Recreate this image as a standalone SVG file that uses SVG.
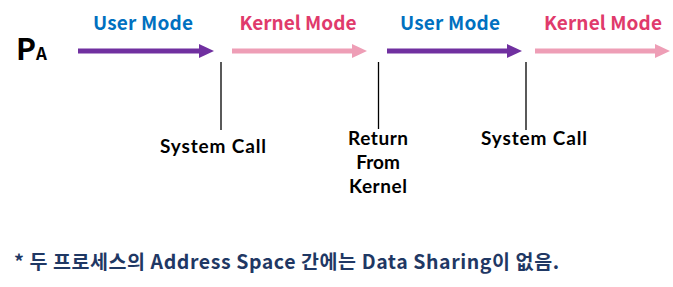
<svg xmlns="http://www.w3.org/2000/svg" width="673" height="287" viewBox="0 0 673 287">
<style>
text{font-family:"Noto Sans CJK KR","Liberation Sans",sans-serif;font-weight:bold}
.lbl{font-size:19px;text-anchor:middle}
.user{fill:#0070C0}
.kern{fill:#E03A6B}
.ev{font-family:Lato,"Noto Sans CJK KR",sans-serif;font-size:19px;text-anchor:middle;fill:#000}
.u{stroke:#7030A0;stroke-width:5;fill:none}
.k{stroke:#EE9EB6;stroke-width:5;fill:none}
.tick{stroke:#000;stroke-width:1.3}
</style>
<rect width="673" height="287" fill="#fff"/>
<g id="process-label">
<text x="16" y="60" font-size="30" fill="#000">P<tspan font-size="17">A</tspan></text>
</g>
<g id="connectors">
<line class="u" x1="78" y1="51" x2="200" y2="51"/>
<path d="M199,44 L214,51 L199,58 Z" fill="#7030A0"/>
<line class="k" x1="232" y1="51" x2="353" y2="51"/>
<path d="M352,44 L367,51 L352,58 Z" fill="#EE9EB6"/>
<line class="u" x1="387" y1="51" x2="508" y2="51"/>
<path d="M507,44 L522,51 L507,58 Z" fill="#7030A0"/>
<line class="k" x1="535" y1="51" x2="656" y2="51"/>
<path d="M655,44 L670,51 L655,58 Z" fill="#EE9EB6"/>
<line class="tick" x1="221" y1="62" x2="221" y2="130"/>
<line class="tick" x1="378.5" y1="62" x2="378.5" y2="129"/>
<line class="tick" x1="526" y1="62" x2="526" y2="130"/>
</g>
<g id="mode-user-1"><text class="lbl user" x="143" y="30" textLength="100" lengthAdjust="spacing">User Mode</text></g>
<g id="mode-kernel-1"><text class="lbl kern" x="298" y="30" textLength="117" lengthAdjust="spacing">Kernel Mode</text></g>
<g id="mode-user-2"><text class="lbl user" x="450" y="30" textLength="100" lengthAdjust="spacing">User Mode</text></g>
<g id="mode-kernel-2"><text class="lbl kern" x="603" y="30" textLength="118" lengthAdjust="spacing">Kernel Mode</text></g>
<g id="event-syscall-1"><text class="ev" x="213" y="153" textLength="106" lengthAdjust="spacing">System Call</text></g>
<g id="event-return"><text class="ev" x="378" y="145" textLength="60" lengthAdjust="spacing">Return</text><text class="ev" x="378" y="169">From</text><text class="ev" x="378" y="193" textLength="58" lengthAdjust="spacing">Kernel</text></g>
<g id="event-syscall-2"><text class="ev" x="534" y="145" textLength="106" lengthAdjust="spacing">System Call</text></g>
<g id="note"><text x="14" y="269" font-size="19.5" fill="#1F3864" textLength="545" lengthAdjust="spacing">* 두 프로세스의 Address Space 간에는 Data Sharing이 없음.</text></g>
</svg>
